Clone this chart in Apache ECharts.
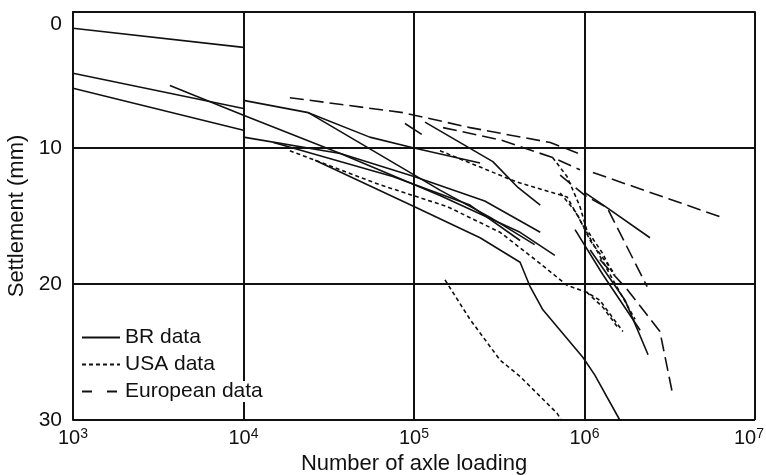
<!DOCTYPE html>
<html>
<head>
<meta charset="utf-8">
<script src="https://cdn.jsdelivr.net/npm/echarts@6/dist/echarts.min.js"></script>
<style>
    html, body { margin: 0; padding: 0; background: #fff; }
    #chart { width: 766px; height: 475px; }
</style>
</head>
<body>
<div id="chart"></div>
<script>
    // axis ticks
    const xExponents = [3, 4, 5, 6, 7];
    const yTicks = [0, 10, 20, 30];
    const legendNames = ['BR data', 'USA data', 'European data'];

    // [axle loadings, settlement mm]
    const brData = [
        [[1e3, 1.2], [1e4, 2.6]],
        [[1e3, 4.5], [1e4, 7.1]],
        [[1e3, 5.6], [1e4, 8.7]],
        [[3.7e3, 5.4], [1e4, 7.6], [3.7e4, 10.4], [1.42e5, 13.5], [4.19e5, 16.2], [6.7e5, 17.9]],
        [[1e4, 6.5], [2.4e4, 7.4], [5.5e4, 9.2], [1e5, 10.0], [2.44e5, 11.1]],
        [[2.4e4, 7.4], [1.42e5, 13.1], [2.8e5, 15.1], [5.1e5, 17.1]],
        [[2.63e4, 10.9], [1e5, 14.3], [2.44e5, 16.6], [4.19e5, 18.4], [4.8e5, 20.2], [5.7e5, 21.9], [9.8e5, 25.4], [1.15e6, 26.7], [1.61e6, 30]],
        [[1.5e4, 9.6], [7.5e4, 12.1], [2.13e5, 14.2], [4.19e5, 16.8]],
        [[1e4, 9.2], [3.7e4, 10.4], [1e5, 12.1], [2.6e5, 13.9], [5.5e5, 16.2]],
        [[1.16e5, 8.1], [2.9e5, 11.0], [4.07e5, 12.9], [5.5e5, 14.2]],
        [[8.85e4, 8.2], [1.11e5, 9.0]],
        [[1.01e6, 13.3], [1.36e6, 14.4], [2.42e6, 16.6]],
        [[8.8e5, 16.0], [1.28e6, 19.3], [2.12e6, 23.4]],
        [[1.08e6, 17.5], [1.73e6, 21.2], [2.36e6, 25.2]]
    ];
    const usaData = [
        [[1.52e5, 19.7], [2.13e5, 22.6], [3.2e5, 25.6], [4.19e5, 26.8], [6.9e5, 29.5], [7.3e5, 30]],
        [[1.87e4, 10.2], [6.3e4, 12.7], [1.56e5, 14.3], [3.2e5, 16.2], [5.5e5, 18.5], [7.9e5, 20.1], [1.03e6, 20.6], [1.23e6, 21.2], [1.68e6, 23.5]],
        [[1.42e5, 10.2], [4.0e5, 12.5], [7.9e5, 13.6], [9.8e5, 15.7], [1.41e6, 19.3], [1.98e6, 22.6]],
        [[6.5e5, 10.7], [7.9e5, 12.1], [9.4e5, 14.3], [1.03e6, 16.0], [1.27e6, 17.7], [1.45e6, 19.1]],
        [[7.2e5, 13.3], [9.0e5, 14.8], [1.08e6, 16.8], [1.51e6, 19.3]],
        [[1.03e6, 20.6], [1.28e6, 21.7], [1.57e6, 23.2]]
    ];
    const euroData = [
        [[1.87e4, 6.3], [8.6e4, 7.4], [2.13e5, 8.5], [6.3e5, 9.6], [9.7e5, 10.5]],
        [[1.48e5, 8.5], [3.2e5, 9.4], [6.5e5, 10.7], [9.4e5, 11.6]],
        [[1.12e6, 11.8], [6.4e6, 15.1]],
        [[7.2e5, 12.0], [1.01e6, 13.5], [1.36e6, 14.4], [2.33e6, 20.2]],
        [[1.23e6, 18.2], [1.78e6, 20.4], [2.77e6, 23.5], [3.3e6, 28.2]]
    ];

    const dashTypes = ['solid', [4, 3], [14, 6]];
    const groups = [brData, usaData, euroData];

    let series = [];
    groups.forEach((lines, gi) => {
        lines.forEach(pts => {
            series.push({
                name: legendNames[gi],
                type: 'line',
                data: pts,
                symbol: 'none',
                silent: true,
                itemStyle: { color: '#111' },
                lineStyle: { color: '#111', width: 1.6, type: dashTypes[gi] }
            });
        });
    });

    const lastExp = xExponents[xExponents.length - 1];

    let myChart = echarts.init(document.getElementById('chart'), null, { renderer: 'canvas' });
    let option = {
        animation: false,
        backgroundColor: '#fff',
        textStyle: { fontFamily: 'Liberation Sans' },
        grid: { left: 73, right: 11, top: 12, bottom: 55, outerBoundsMode: 'none' },
        legend: {
            data: [
                { name: legendNames[0] },
                { name: legendNames[1], lineStyle: { type: [4, 3] } },
                { name: legendNames[2], lineStyle: { type: [10, 15] } }
            ],
            orient: 'vertical',
            left: 76,
            top: 322,
            z: 10,
            itemGap: 6,
            itemWidth: 38,
            itemHeight: 14,
            itemStyle: { opacity: 0 },
            textStyle: {
                fontSize: 21, lineHeight: 21, color: '#111', fontFamily: 'Liberation Sans',
                backgroundColor: '#fff'
            }
        },
        xAxis: {
            type: 'log',
            logBase: 10,
            min: Math.pow(10, xExponents[0]),
            max: Math.pow(10, lastExp),
            name: 'Number of axle loading',
            nameLocation: 'middle',
            nameGap: 32,
            nameTextStyle: { fontSize: 22, color: '#111' },
            axisLine: { show: true, lineStyle: { color: '#111', width: 2 } },
            axisTick: { show: true, inside: false, length: 6, lineStyle: { color: '#111', width: 1.5 } },
            minorTick: { show: false },
            axisLabel: {
                color: '#111',
                margin: 7,
                formatter: v => {
                    let e = Math.round(Math.log10(v));
                    return '10{sup|' + e + '}' + (e === lastExp ? '{pad|}' : '');
                },
                rich: {
                    sup: { fontSize: 14, verticalAlign: 'top', padding: [0, 0, 9, 0], color: '#111' },
                    pad: { width: 12 }
                },
                fontSize: 20
            },
            splitLine: { show: true, lineStyle: { color: '#111', width: 2 } }
        },
        yAxis: {
            type: 'value',
            inverse: true,
            min: yTicks[0],
            max: yTicks[yTicks.length - 1],
            interval: 10,
            name: 'Settlement (mm)',
            nameLocation: 'middle',
            nameGap: 42,
            nameTextStyle: { fontSize: 22, color: '#111' },
            axisLine: { show: true, lineStyle: { color: '#111', width: 2 } },
            axisTick: { show: false },
            axisLabel: {
                color: '#111',
                fontSize: 21,
                margin: 11,
                formatter: v => v === yTicks[0] ? '{zero|' + v + '}' : String(v),
                rich: { zero: { fontSize: 21, padding: [24, 0, 0, 0], color: '#111' } }
            },
            splitLine: { show: true, lineStyle: { color: '#111', width: 2 } }
        },
        series: series
    };
    myChart.setOption(option);
</script>
</body>
</html>
